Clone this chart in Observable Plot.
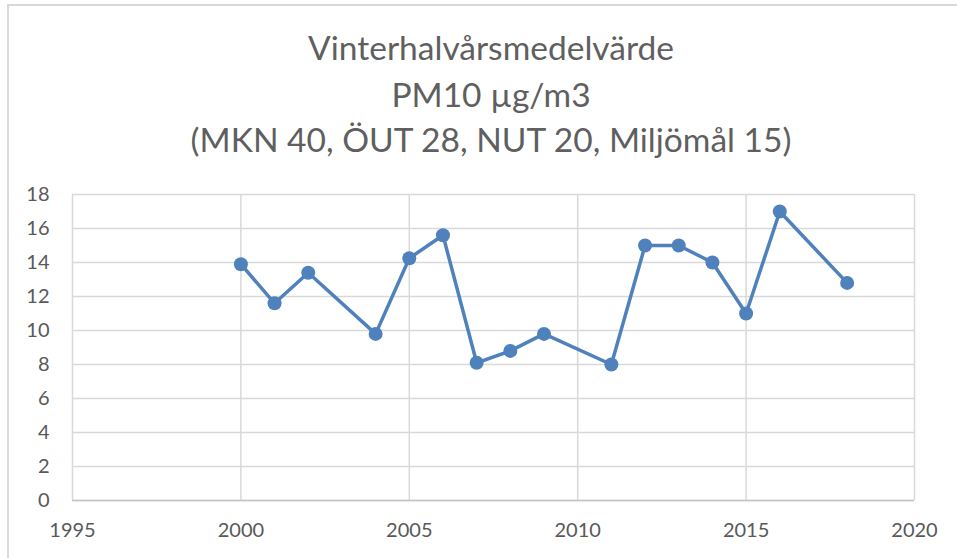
<!DOCTYPE html>
<html>
<head>
<meta charset="utf-8">
<script src="https://cdn.jsdelivr.net/npm/d3@7"></script>
<script src="https://cdn.jsdelivr.net/npm/@observablehq/plot@0.6"></script>
<style>
  html, body { margin: 0; padding: 0; background: #fff; }
  #wrap { position: relative; width: 957px; height: 558px; overflow: hidden; font-family: Lato, "Open Sans", sans-serif; }
  #frame { position: absolute; left: 7px; top: 4px; width: 980px; height: 600px; border-left: 2px solid #d9d9d9; border-top: 2px solid #d9d9d9; box-sizing: border-box; }
  #title { position: absolute; left: 0; top: 0; width: 982px; text-align: center; color: #5f5f5f; font-weight: 400; }
  #title div { position: absolute; left: 0; width: 100%; white-space: nowrap; }
  #chart { position: absolute; left: 0; top: 170px; }
</style>
</head>
<body>
<div id="wrap">
  <div id="frame"></div>
  <div id="title"></div>
  <div id="chart"></div>
</div>
<script>
const titleLines = ["Vinterhalvårsmedelvärde", "PM10 µg/m3", "(MKN 40, ÖUT 28, NUT 20, Miljömål 15)"];
const years  = [2000, 2001, 2002, 2004, 2005, 2006, 2007, 2008, 2009, 2011, 2012, 2013, 2014, 2015, 2016, 2018];
const values = [13.9, 11.6, 13.4, 9.8, 14.25, 15.6, 8.1, 8.8, 9.8, 8.0, 15.0, 15.0, 14.0, 11.0, 17.0, 12.8];
const xTicks = [1995, 2000, 2005, 2010, 2015, 2020];
const yTicks = [0, 2, 4, 6, 8, 10, 12, 14, 16, 18];

const data = years.map((y, i) => ({year: y, value: values[i]}));

// Title: fit longest line to the reference width
const ctx = document.createElement("canvas").getContext("2d");
ctx.font = "400 100px Lato";
const w3 = ctx.measureText(titleLines[2]).width;
const titleSize = Math.min(34, 100 * 603 / w3);
const titleEl = document.getElementById("title");
const centers = [48, 95, 140];
titleLines.forEach((t, i) => {
  const d = document.createElement("div");
  d.textContent = t;
  d.style.fontSize = titleSize + "px";
  d.style.lineHeight = "1";
  d.style.top = (centers[i] - titleSize / 2) + "px";
  titleEl.appendChild(d);
});

const blue = "#4f81bd";
const chart = Plot.plot({
  width: 957,
  height: 388,
  marginLeft: 72,
  marginRight: 43,
  marginTop: 24,
  marginBottom: 58,
  style: { fontFamily: "Lato, 'Open Sans', sans-serif", fontSize: "20px", color: "#595959", background: "transparent" },
  x: { domain: [1995, 2020], ticks: xTicks, tickFormat: d => String(d), tickSize: 0, tickPadding: 22, label: null },
  y: { domain: [0, 18], ticks: yTicks, tickSize: 0, tickPadding: 23, label: null },
  marks: [
    Plot.gridX(xTicks, { stroke: "#d9d9d9", strokeOpacity: 1, strokeWidth: 1.5 }),
    Plot.gridY(yTicks, { stroke: "#d9d9d9", strokeOpacity: 1, strokeWidth: 1.5 }),
    Plot.ruleY([0], { stroke: "#c4c4c4", strokeWidth: 1.5 }),
    Plot.line(data, { x: "year", y: "value", stroke: blue, strokeWidth: 3.5 }),
    Plot.dot(data, { x: "year", y: "value", fill: blue, r: 7, stroke: "none" })
  ]
});
document.getElementById("chart").appendChild(chart);
</script>
</body>
</html>
